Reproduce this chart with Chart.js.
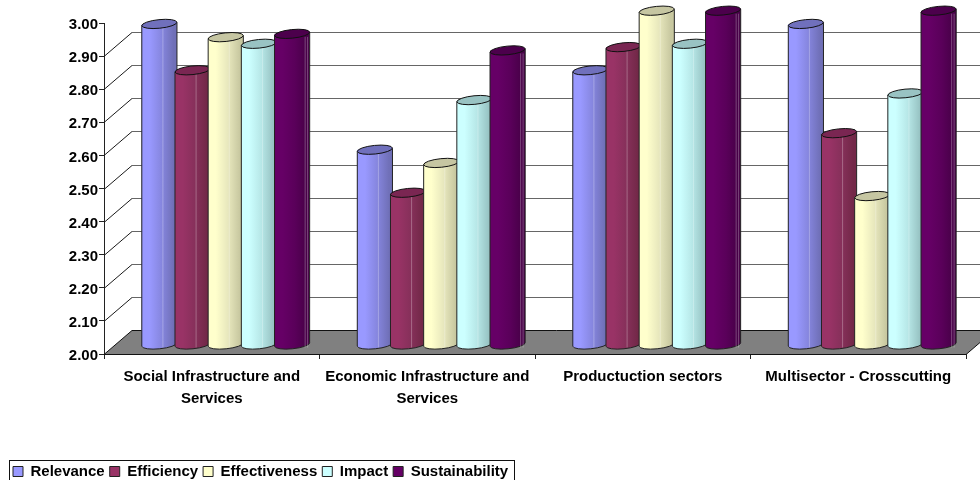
<!DOCTYPE html>
<html><head><meta charset="utf-8">
<style>html,body{margin:0;padding:0;background:#fff;overflow:hidden}#w{position:relative;width:980px;height:480px}</style>
<script src="https://cdn.jsdelivr.net/npm/chart.js@4"></script>
</head><body><div id="w"><canvas id="c" width="980" height="480"></canvas></div>
<script>
const categories = [['Social Infrastructure and','Services'],['Economic Infrastructure and','Services'],'Productuction sectors','Multisector - Crosscutting'];
const seriesNames = ['Relevance','Efficiency','Effectiveness','Impact','Sustainability'];
const relevance = [2.97,2.59,2.83,2.97];
const efficiency = [2.83,2.46,2.90,2.64];
const effectiveness = [2.93,2.55,3.01,2.45];
const impact = [2.91,2.74,2.91,2.76];
const sustainability = [2.94,2.89,3.01,3.01];
const seriesValues = [relevance,efficiency,effectiveness,impact,sustainability];
const baseColors = ['#9999FF','#993366','#FFFFCC','#CCFFFF','#660066'];
const midColors = ['#8585DD','#86305A','#E6E6BC','#B6E6E6','#5A005A'];
const darkColors = ['#7070B8','#732848','#C8C8A0','#98C4C4','#480048'];
const capColors = ['#7070BC','#7A2652','#C6C6A2','#99C3C3','#4C004C'];
const yTicks = {min:2,max:3,step:0.1};
const depthX = 28, depthY = 24, barDX = 13, barDY = 9, wallRight = 980;

const scene = {
  id:'scene',
  afterLayout(chart){
    const l = chart.legend;
    if(l){ l.left = 8; l.right = 975; l.top = 459; l.bottom = 459 + l.height; }
  },
  beforeDatasetsDraw(chart){
    const {ctx,scales:{x,y}} = chart;
    const L = x.left, R = x.right, B = y.bottom;
    ctx.save();
    ctx.lineWidth = 1;
    y.ticks.forEach(t=>{
      if(t.value >= yTicks.max - 1e-6 || t.value <= yTicks.min + 1e-6) return;
      const p = Math.round(y.getPixelForValue(t.value)) + .5;
      ctx.strokeStyle = '#1a1a1a';
      ctx.beginPath(); ctx.moveTo(L,p); ctx.lineTo(L+depthX,p-depthY); ctx.stroke();
      ctx.strokeStyle = '#666';
      ctx.beginPath(); ctx.moveTo(L+depthX,p-depthY); ctx.lineTo(wallRight,p-depthY); ctx.stroke();
    });
    ctx.beginPath();
    ctx.moveTo(L,B+.5); ctx.lineTo(L+depthX,B-depthY+.5); ctx.lineTo(R+depthX,B-depthY+.5); ctx.lineTo(R,B+.5); ctx.closePath();
    ctx.fillStyle = '#808080'; ctx.fill();
    ctx.strokeStyle = '#111'; ctx.stroke();
    ctx.restore();
  },
  beforeDatasetDraw(chart){
    chart.ctx.save();
    chart.ctx.translate(barDX,-barDY);
  },
  afterDatasetDraw(chart){
    chart.ctx.restore();
  },
  afterDatasetsDraw(chart){
    const ctx = chart.ctx;
    ctx.save();
    ctx.translate(barDX,-barDY);
    seriesNames.forEach((n,i)=>{
      chart.getDatasetMeta(i).data.forEach(el=>{
        const w = el.width + 2, hw = w/2, top = el.y, base = el.base, cx = el.x + 1;
        const tilt = -0.1, ry = 4.3, l = cx-hw, r = cx+hw;
        const g = ctx.createLinearGradient(l,0,r,0);
        g.addColorStop(0,baseColors[i]); g.addColorStop(.22,baseColors[i]);
        g.addColorStop(.58,midColors[i]); g.addColorStop(.9,darkColors[i]); g.addColorStop(1,darkColors[i]);
        ctx.beginPath();
        ctx.moveTo(l,top+1.5);
        ctx.lineTo(l,base+1.5);
        ctx.ellipse(cx,base,hw,ry,tilt,Math.PI,0,true);
        ctx.lineTo(r,top-1.5);
        ctx.closePath();
        ctx.fillStyle = g; ctx.fill();
        ctx.strokeStyle = '#222'; ctx.lineWidth = 1; ctx.stroke();
        ctx.strokeStyle = 'rgba(255,255,255,.28)';
        ctx.beginPath();
        const fx = i===4 ? [.87,.94] : [.6];
        fx.forEach(f=>{ctx.moveTo(l+w*f,top+3);ctx.lineTo(l+w*f,base+3);});
        ctx.stroke();
        ctx.beginPath();
        ctx.ellipse(cx,top,hw,ry,tilt,0,Math.PI*2);
        ctx.fillStyle = capColors[i]; ctx.fill();
        ctx.strokeStyle = '#111'; ctx.stroke();
      });
    });
    ctx.restore();
  },
  afterDraw(chart){
    const ctx = chart.ctx;
    ctx.save();
    ctx.strokeStyle = '#111'; ctx.lineWidth = 1;
    ctx.strokeRect(9.5,460.5,505,24);
    ctx.restore();
  }
};

const font = {family:'"Liberation Sans", Arial, sans-serif',weight:'bold',size:15};
new Chart(document.getElementById('c'),{
  type:'bar',
  data:{labels:categories,datasets:seriesNames.map((n,i)=>({
    label:n,data:seriesValues[i],base:yTicks.min,backgroundColor:baseColors[i],borderColor:'#222',borderWidth:0,
    barPercentage:1,categoryPercentage:0.77,clip:false
  }))},
  options:{
    responsive:false,animation:false,devicePixelRatio:1,
    layout:{padding:{top:23,right:14,left:0,bottom:0}},
    plugins:{
      title:{display:false},tooltip:{enabled:false},
      legend:{position:'bottom',align:'start',
        labels:{font,color:'#000',boxWidth:10,boxHeight:10,padding:5,
          generateLabels(c){
            return Chart.defaults.plugins.legend.labels.generateLabels(c).map(it=>Object.assign(it,{strokeStyle:'#222',lineWidth:1}));
          }}}
    },
    scales:{
      x:{
        afterFit(s){ s.height = 126 - (s.chart.legend ? s.chart.legend.height : 26); },
        grid:{display:true,drawOnChartArea:false,drawTicks:true,tickLength:5,color:'#222',offset:true},
        border:{color:'#222'},
        ticks:{font:{...font,lineHeight:1.45},color:'#000',maxRotation:0,autoSkip:false,padding:7}
      },
      y:{
        min:yTicks.min,max:yTicks.max,
        afterFit(s){ s.width = 104; },
        grid:{display:true,drawOnChartArea:false,drawTicks:true,tickLength:5,color:'#222'},
        border:{color:'#222'},
        ticks:{font,color:'#000',stepSize:yTicks.step,padding:1,labelOffset:2,callback:v=>v.toFixed(2)}
      }
    }
  },
  plugins:[scene]
});
</script></body></html>
